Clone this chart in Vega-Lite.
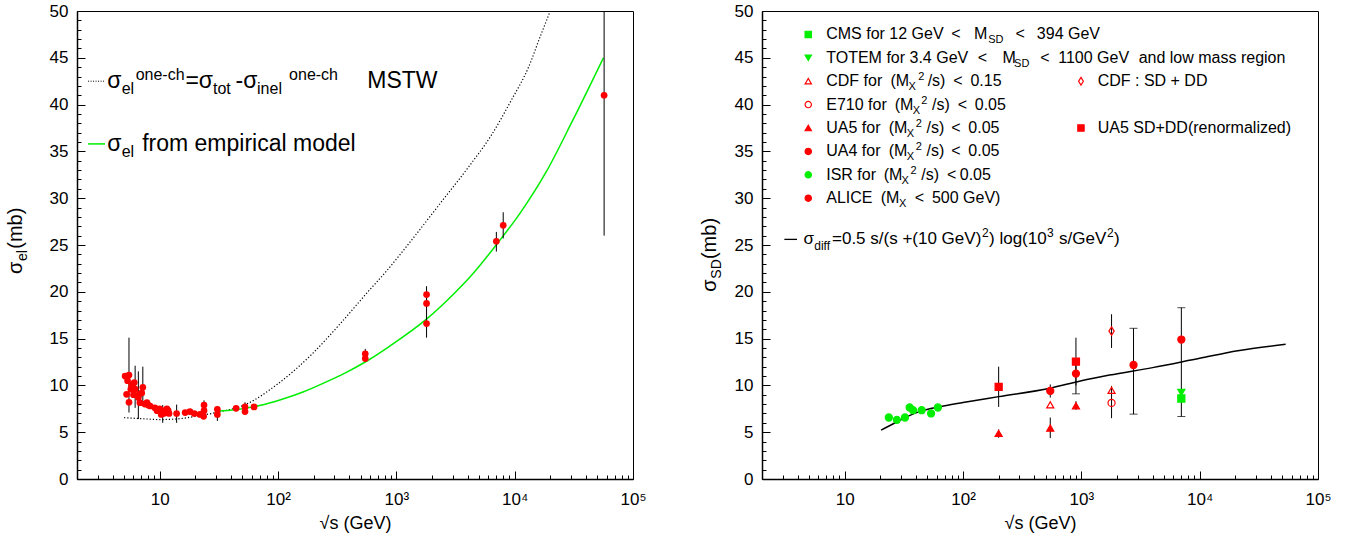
{
  "$schema": "https://vega.github.io/schema/vega-lite/v6.json",
  "background": "white",
  "padding": {"left": 5, "top": 1, "right": 0, "bottom": 0},
  "config": {
    "font": "Liberation Sans",
    "view": {"stroke": "#000", "strokeWidth": 1},
    "axis": {"labelFont": "Liberation Sans", "labelFontSize": 17, "labelColor": "#000", "titleFont": "Liberation Sans", "titleFontSize": 18, "titleColor": "#000", "titleFontWeight": "normal", "domainColor": "#000", "tickColor": "#000", "grid": false, "labelOverlap": false, "labelBound": false, "labelFlush": false}
  },
  "datasets": {
    "el": [
      {"x": 5.1, "y": 11.0}, {"x": 5.5, "y": 11.1, "lo": 7.1, "hi": 15.1}, {"x": 5.25, "y": 9.05}, {"x": 5.35, "y": 10.5},
      {"x": 5.5, "y": 8.2}, {"x": 5.7, "y": 9.6}, {"x": 5.8, "y": 10.1}, {"x": 6.1, "y": 10.3},
      {"x": 6.2, "y": 9.6, "lo": 7.6, "hi": 12.1}, {"x": 6.0, "y": 9.0}, {"x": 6.7, "y": 9.05},
      {"x": 6.6, "y": 8.7, "lo": 6.4, "hi": 11.5}, {"x": 7.2, "y": 9.8, "lo": 7.8, "hi": 12.0}, {"x": 7.05, "y": 9.2},
      {"x": 6.8, "y": 8.15}, {"x": 7.5, "y": 8.0}, {"x": 7.8, "y": 8.15}, {"x": 8.0, "y": 7.9}, {"x": 8.3, "y": 7.8},
      {"x": 9.1, "y": 7.6}, {"x": 9.5, "y": 7.3}, {"x": 9.8, "y": 7.4}, {"x": 10.0, "y": 7.5}, {"x": 10.3, "y": 6.9},
      {"x": 10.6, "y": 7.3, "lo": 6.0, "hi": 7.9}, {"x": 10.8, "y": 7.0}, {"x": 11.3, "y": 7.1}, {"x": 11.5, "y": 7.5},
      {"x": 11.8, "y": 7.3}, {"x": 12.0, "y": 7.0}, {"x": 13.9, "y": 7.0, "lo": 6.0, "hi": 7.95}, {"x": 16.4, "y": 7.1},
      {"x": 18.0, "y": 7.2}, {"x": 19.6, "y": 7.0}, {"x": 21.9, "y": 6.9}, {"x": 23.7, "y": 7.9},
      {"x": 23.7, "y": 7.3, "lo": 6.5, "hi": 8.4}, {"x": 23.5, "y": 6.7}, {"x": 30.7, "y": 7.45, "lo": 6.9, "hi": 7.8},
      {"x": 30.7, "y": 6.9, "lo": 6.2, "hi": 7.5}, {"x": 44.2, "y": 7.55}, {"x": 52.6, "y": 7.7, "lo": 7.2, "hi": 8.2},
      {"x": 52.6, "y": 7.2}, {"x": 62.7, "y": 7.7},
      {"x": 546, "y": 13.37, "lo": 12.9, "hi": 13.9}, {"x": 546, "y": 12.87, "lo": 12.5, "hi": 13.3},
      {"x": 1800, "y": 19.7, "lo": 18.9, "hi": 20.6}, {"x": 1800, "y": 18.76, "lo": 18.0, "hi": 19.5},
      {"x": 1800, "y": 16.6, "lo": 15.1, "hi": 18.1}, {"x": 7000, "y": 25.4, "lo": 24.3, "hi": 26.4},
      {"x": 8000, "y": 27.1, "lo": 25.7, "hi": 28.5}, {"x": 57000, "y": 41.0, "lo": 26.0, "hi": 56.0}
    ],
    "mstw": [
      {"x": 5.0, "y": 6.55}, {"x": 7, "y": 6.45}, {"x": 10, "y": 6.35}, {"x": 15, "y": 6.45}, {"x": 20, "y": 6.7},
      {"x": 30, "y": 7.1}, {"x": 54, "y": 8.0}, {"x": 98, "y": 10.1}, {"x": 192, "y": 13.3}, {"x": 347, "y": 16.8},
      {"x": 575, "y": 20.0}, {"x": 810, "y": 22.1}, {"x": 1460, "y": 26.1}, {"x": 2400, "y": 29.6}, {"x": 4000, "y": 33.2},
      {"x": 6400, "y": 36.8}, {"x": 9300, "y": 40.4}, {"x": 13000, "y": 43.9}, {"x": 16700, "y": 47.5}, {"x": 20000, "y": 50}
    ],
    "elLine": [
      {"x": 30.5, "y": 7.27}, {"x": 43.9, "y": 7.4}, {"x": 69.8, "y": 7.85}, {"x": 106.7, "y": 8.5}, {"x": 162.6, "y": 9.3},
      {"x": 247.7, "y": 10.3}, {"x": 378.4, "y": 11.4}, {"x": 545.8, "y": 12.5}, {"x": 881, "y": 14.2}, {"x": 1807, "y": 17.1},
      {"x": 3126, "y": 19.9}, {"x": 4207, "y": 21.6}, {"x": 6982, "y": 25.0}, {"x": 11117, "y": 28.4}, {"x": 18450, "y": 32.8},
      {"x": 30620, "y": 38.2}, {"x": 56234, "y": 45.0}
    ],
    "legLines": [
      {"k": "mstw", "x": 2.48, "x2": 3.45, "y": 42.5},
      {"k": "emp", "x": 2.48, "x2": 3.45, "y": 35.8},
      {"k": "diff", "x": 3.09, "x2": 3.95, "y": 25.6}
    ],
    "legL": [
      {"r": "m", "t": "σ", "x": 3.61, "y": 42.5}, {"r": "b", "t": "el", "x": 4.77, "y": 42.5}, {"r": "p", "t": "one-ch", "x": 6.26, "y": 42.5},
      {"r": "m", "t": "=σ", "x": 16.49, "y": 42.5}, {"r": "b", "t": "tot", "x": 28.2, "y": 42.5}, {"r": "m", "t": "-σ", "x": 43.8, "y": 42.5},
      {"r": "b", "t": "inel", "x": 66.5, "y": 42.5}, {"r": "p", "t": "one-ch", "x": 124, "y": 42.5}, {"r": "m", "t": "MSTW", "x": 568, "y": 42.5},
      {"r": "m", "t": "σ", "x": 3.61, "y": 35.8}, {"r": "b", "t": "el", "x": 4.77, "y": 35.8}, {"r": "m", "t": "from empirical model", "x": 7.11, "y": 35.8}
    ],
    "ytL": [
      {"r": "m", "t": "σ", "x": 0.686, "y": 21.9}, {"r": "b", "t": "el", "x": 0.686, "y": 23.3}, {"r": "m", "t": "(mb)", "x": 0.686, "y": 24.6}
    ],
    "sd": [
      {"exp": "ISR", "x": 23.6, "y": 6.57}, {"exp": "ISR", "x": 27.6, "y": 6.32}, {"exp": "ISR", "x": 32.3, "y": 6.57},
      {"exp": "ISR", "x": 35.4, "y": 7.64}, {"exp": "ISR", "x": 37.8, "y": 7.35}, {"exp": "ISR", "x": 44.7, "y": 7.35},
      {"exp": "ISR", "x": 53.7, "y": 7.0}, {"exp": "ISR", "x": 61.3, "y": 7.64},
      {"exp": "UA5SDDD", "x": 200, "y": 9.84, "lo": 7.7, "hi": 12.0}, {"exp": "UA5SDDD", "x": 900, "y": 12.54, "lo": 10.0, "hi": 15.1},
      {"exp": "UA5", "x": 200, "y": 4.87, "lo": 4.4, "hi": 5.3}, {"exp": "UA5", "x": 546, "y": 5.44, "lo": 4.37, "hi": 6.57},
      {"exp": "UA5", "x": 900, "y": 7.82, "lo": 7.4, "hi": 8.3},
      {"exp": "UA4", "x": 546, "y": 9.41, "lo": 8.7, "hi": 10.1},
      {"exp": "CDF", "x": 546, "y": 7.92}, {"exp": "CDF", "x": 1800, "y": 9.48},
      {"exp": "E710", "x": 1800, "y": 8.13, "lo": 6.5, "hi": 9.95},
      {"exp": "CDFSDDD", "x": 1800, "y": 15.8, "lo": 14.0, "hi": 17.6},
      {"exp": "ALICE", "x": 900, "y": 11.26, "lo": 9.1, "hi": 12.8}, {"exp": "ALICE", "x": 2760, "y": 12.18, "lo": 6.93, "hi": 16.1},
      {"exp": "ALICE", "x": 7000, "y": 14.9, "lo": 6.68, "hi": 18.3},
      {"exp": "TOTEM", "x": 7000, "y": 9.24}, {"exp": "CMS", "x": 7000, "y": 8.6}
    ],
    "sdLine": [
      {"x": 20.3, "y": 5.22}, {"x": 26.9, "y": 6.04}, {"x": 34.8, "y": 6.75}, {"x": 44.7, "y": 7.28}, {"x": 62.3, "y": 7.7},
      {"x": 100, "y": 8.17}, {"x": 200, "y": 8.8}, {"x": 543, "y": 9.7}, {"x": 1000, "y": 10.5}, {"x": 1730, "y": 11.1},
      {"x": 4000, "y": 11.9}, {"x": 10000, "y": 12.9}, {"x": 21000, "y": 13.7}, {"x": 53300, "y": 14.4}
    ],
    "legRmk": [
      {"exp": "CMS", "x": 4.92, "y": 47.5}, {"exp": "TOTEM", "x": 4.92, "y": 45}, {"exp": "CDF", "x": 4.92, "y": 42.5},
      {"exp": "E710", "x": 4.92, "y": 40}, {"exp": "UA5", "x": 4.92, "y": 37.5}, {"exp": "UA4", "x": 4.92, "y": 35},
      {"exp": "ISR", "x": 4.92, "y": 32.5}, {"exp": "ALICE", "x": 4.92, "y": 30},
      {"exp": "CDFSDDD", "x": 992.5, "y": 42.5}, {"exp": "UA5SDDD", "x": 992.5, "y": 37.5}
    ],
    "legR": [
      {"r": "m", "t": "CMS for 12 GeV", "x": 6.98, "y": 47.5}, {"r": "m", "t": "<", "x": 79.5, "y": 47.5}, {"r": "m", "t": "M", "x": 123.7, "y": 47.5},
      {"r": "b", "t": "SD", "x": 163, "y": 47.5}, {"r": "m", "t": "<", "x": 277.3, "y": 47.5}, {"r": "m", "t": "394 GeV", "x": 420.7, "y": 47.5},
      {"r": "m", "t": "TOTEM for 3.4 GeV", "x": 6.98, "y": 45}, {"r": "m", "t": "<", "x": 133.1, "y": 45}, {"r": "m", "t": "M", "x": 215.8, "y": 45},
      {"r": "b", "t": "SD", "x": 270, "y": 45}, {"r": "m", "t": "<", "x": 449.5, "y": 45}, {"r": "m", "t": "1100 GeV", "x": 638, "y": 45},
      {"r": "m", "t": "and low mass region", "x": 3051, "y": 45},
      {"r": "m", "t": "CDF for", "x": 6.98, "y": 42.5}, {"r": "m", "t": "(M", "x": 24.34, "y": 42.5}, {"r": "b", "t": "X", "x": 34.56, "y": 42.5},
      {"r": "p", "t": "2", "x": 41.82, "y": 42.5}, {"r": "m", "t": "/s)", "x": 50.23, "y": 42.5}, {"r": "m", "t": "<", "x": 82.8, "y": 42.5},
      {"r": "m", "t": "0.15", "x": 115.5, "y": 42.5},
      {"r": "m", "t": "E710 for", "x": 6.98, "y": 40}, {"r": "m", "t": "(M", "x": 26.47, "y": 40}, {"r": "b", "t": "X", "x": 37.58, "y": 40},
      {"r": "p", "t": "2", "x": 44.33, "y": 40}, {"r": "m", "t": "/s)", "x": 54.6, "y": 40}, {"r": "m", "t": "<", "x": 90.04, "y": 40},
      {"r": "m", "t": "0.05", "x": 125.6, "y": 40},
      {"r": "m", "t": "UA5 for", "x": 6.98, "y": 37.5}, {"r": "m", "t": "(M", "x": 23.55, "y": 37.5}, {"r": "b", "t": "X", "x": 33.44, "y": 37.5},
      {"r": "p", "t": "2", "x": 39.84, "y": 37.5}, {"r": "m", "t": "/s)", "x": 49.06, "y": 37.5}, {"r": "m", "t": "<", "x": 79.5, "y": 37.5},
      {"r": "m", "t": "0.05", "x": 110.9, "y": 37.5},
      {"r": "m", "t": "UA4 for", "x": 6.98, "y": 35}, {"r": "m", "t": "(M", "x": 23.55, "y": 35}, {"r": "b", "t": "X", "x": 33.44, "y": 35},
      {"r": "p", "t": "2", "x": 39.84, "y": 35}, {"r": "m", "t": "/s)", "x": 49.06, "y": 35}, {"r": "m", "t": "<", "x": 79.5, "y": 35},
      {"r": "m", "t": "0.05", "x": 110.9, "y": 35},
      {"r": "m", "t": "ISR for", "x": 6.98, "y": 32.5}, {"r": "m", "t": "(M", "x": 21.33, "y": 32.5}, {"r": "b", "t": "X", "x": 30.21, "y": 32.5},
      {"r": "p", "t": "2", "x": 36.0, "y": 32.5}, {"r": "m", "t": "/s)", "x": 44.33, "y": 32.5}, {"r": "m", "t": "<", "x": 73.1, "y": 32.5},
      {"r": "m", "t": "0.05", "x": 93.8, "y": 32.5},
      {"r": "m", "t": "ALICE", "x": 6.98, "y": 30}, {"r": "m", "t": "(M", "x": 20.12, "y": 30}, {"r": "b", "t": "X", "x": 28.79, "y": 30},
      {"r": "m", "t": "<", "x": 39.14, "y": 30}, {"r": "m", "t": "500 GeV)", "x": 54.6, "y": 30},
      {"r": "m", "t": "CDF : SD + DD", "x": 1374, "y": 42.5}, {"r": "m", "t": "UA5 SD+DD(renormalized)", "x": 1374, "y": 37.5},
      {"r": "fm", "t": "σ", "x": 4.49, "y": 25.6}, {"r": "fb", "t": "diff", "x": 5.53, "y": 25.6},
      {"r": "fm", "t": "=0.5 s/(s +(10 GeV)", "x": 7.81, "y": 25.6}, {"r": "fp", "t": "2", "x": 144.8, "y": 25.6},
      {"r": "fm", "t": ") log(10", "x": 165.9, "y": 25.6}, {"r": "fp", "t": "3", "x": 513.1, "y": 25.6},
      {"r": "fm", "t": "s/GeV", "x": 648, "y": 25.6}, {"r": "fp", "t": "2", "x": 1650, "y": 25.6}, {"r": "fm", "t": ")", "x": 1891, "y": 25.6}
    ],
    "ytR": [
      {"r": "m", "t": "σ", "x": 0.817, "y": 20.0}, {"r": "b", "t": "SD", "x": 0.817, "y": 21.4}, {"r": "m", "t": "(mb)", "x": 0.817, "y": 23.5}
    ]
  },
  "spacing": 52,
  "hconcat": [
    {
      "width": 556,
      "height": 468,
      "encoding": {
        "x": {"field": "x", "type": "quantitative", "scale": {"type": "log", "domain": [2, 100000]}, "axis": null},
        "y": {"field": "y", "type": "quantitative", "scale": {"domain": [0, 50], "nice": false, "zero": false}, "axis": null}
      },
      "layer": [
        {
          "data": {"name": "mstw"},
          "mark": {"type": "line", "color": "#000", "strokeDash": [1.2, 2], "strokeWidth": 1.2, "interpolate": "monotone", "clip": true},
          "encoding": {
            "x": {"field": "x", "type": "quantitative", "scale": {"type": "log", "domain": [2, 100000]},
              "axis": {"orient": "bottom", "values": [3,4,5,6,7,8,9,20,30,40,50,60,70,80,90,200,300,400,500,600,700,800,900,2000,3000,4000,5000,6000,7000,8000,9000,20000,30000,40000,50000,60000,70000,80000,90000], "tickSize": -4, "labels": false, "domain": false, "title": null}},
            "y": {"field": "y", "type": "quantitative", "scale": {"domain": [0, 50], "nice": false, "zero": false},
              "axis": {"orient": "left", "values": [1,2,3,4,6,7,8,9,11,12,13,14,16,17,18,19,21,22,23,24,26,27,28,29,31,32,33,34,36,37,38,39,41,42,43,44,46,47,48,49], "tickSize": -4, "labels": false, "domain": false, "title": null}}
          }
        },
        {
          "data": {"name": "elLine"},
          "mark": {"type": "line", "color": "#00ee00", "strokeWidth": 1.5, "interpolate": "monotone"},
          "encoding": {
            "x": {"field": "x", "type": "quantitative", "scale": {"type": "log", "domain": [2, 100000]},
              "axis": {"orient": "bottom", "values": [10, 100, 1000, 10000, 100000], "tickSize": -8, "labelPadding": 20, "domainWidth": 1.5,
                "labelExpr": "datum.value == 10 ? '10' : datum.value == 100 ? '10²' : datum.value == 1000 ? '10³' : datum.value == 10000 ? '10⁴' : '10⁵'",
                "title": "√s (GeV)", "titlePadding": 7}},
            "y": {"field": "y", "type": "quantitative", "scale": {"domain": [0, 50], "nice": false, "zero": false},
              "axis": {"orient": "left", "values": [0, 5, 10, 15, 20, 25, 30, 35, 40, 45, 50], "tickSize": -8, "labelPadding": 17, "domainWidth": 1.5, "title": null}}
          }
        },
        {
          "data": {"name": "el"},
          "transform": [{"filter": "isValid(datum.lo)"}],
          "mark": {"type": "rule", "color": "#000", "strokeWidth": 1, "clip": true},
          "encoding": {
            "y": {"field": "lo", "type": "quantitative", "scale": {"domain": [0, 50], "nice": false, "zero": false}, "axis": null},
            "y2": {"field": "hi"}
          }
        },
        {
          "data": {"name": "el"},
          "mark": {"type": "point", "shape": "circle", "filled": true, "size": 45, "color": "#ff0000", "opacity": 1}
        },
        {
          "data": {"name": "legLines"},
          "transform": [{"filter": "datum.k == 'mstw'"}],
          "mark": {"type": "rule", "color": "#000", "strokeDash": [1, 1.5], "strokeWidth": 1},
          "encoding": {"x2": {"field": "x2"}}
        },
        {
          "data": {"name": "legLines"},
          "transform": [{"filter": "datum.k == 'emp'"}],
          "mark": {"type": "rule", "color": "#00ee00", "strokeWidth": 1.5},
          "encoding": {"x2": {"field": "x2"}}
        },
        {
          "data": {"name": "legL"},
          "transform": [{"filter": "datum.r == 'm'"}],
          "mark": {"type": "text", "align": "left", "baseline": "middle", "font": "Liberation Sans", "fontSize": 23, "color": "#000"},
          "encoding": {"text": {"field": "t"}}
        },
        {
          "data": {"name": "legL"},
          "transform": [{"filter": "datum.r == 'b'"}],
          "mark": {"type": "text", "align": "left", "baseline": "middle", "font": "Liberation Sans", "fontSize": 16, "dy": 8, "color": "#000"},
          "encoding": {"text": {"field": "t"}}
        },
        {
          "data": {"name": "legL"},
          "transform": [{"filter": "datum.r == 'p'"}],
          "mark": {"type": "text", "align": "left", "baseline": "middle", "font": "Liberation Sans", "fontSize": 16, "dy": -6, "color": "#000"},
          "encoding": {"text": {"field": "t"}}
        },
        {
          "data": {"name": "ytL"},
          "transform": [{"filter": "datum.r == 'm'"}],
          "mark": {"type": "text", "align": "left", "baseline": "alphabetic", "angle": 270, "font": "Liberation Sans", "fontSize": 20, "color": "#000"},
          "encoding": {"text": {"field": "t"}}
        },
        {
          "data": {"name": "ytL"},
          "transform": [{"filter": "datum.r == 'b'"}],
          "mark": {"type": "text", "align": "left", "baseline": "alphabetic", "angle": 270, "font": "Liberation Sans", "fontSize": 14, "dy": 5, "color": "#000"},
          "encoding": {"text": {"field": "t"}}
        }
      ],
      "resolve": {"axis": {"x": "independent", "y": "independent"}}
    },
    {
      "width": 556,
      "height": 468,
      "encoding": {
        "x": {"field": "x", "type": "quantitative", "scale": {"type": "log", "domain": [2, 100000]}, "axis": null},
        "y": {"field": "y", "type": "quantitative", "scale": {"domain": [0, 50], "nice": false, "zero": false}, "axis": null}
      },
      "layer": [
        {
          "data": {"name": "sdLine"},
          "mark": {"type": "line", "color": "#000", "strokeWidth": 1.5, "interpolate": "monotone"},
          "encoding": {
            "x": {"field": "x", "type": "quantitative", "scale": {"type": "log", "domain": [2, 100000]},
              "axis": {"orient": "bottom", "values": [3,4,5,6,7,8,9,20,30,40,50,60,70,80,90,200,300,400,500,600,700,800,900,2000,3000,4000,5000,6000,7000,8000,9000,20000,30000,40000,50000,60000,70000,80000,90000], "tickSize": -4, "labels": false, "domain": false, "title": null}},
            "y": {"field": "y", "type": "quantitative", "scale": {"domain": [0, 50], "nice": false, "zero": false},
              "axis": {"orient": "left", "values": [1,2,3,4,6,7,8,9,11,12,13,14,16,17,18,19,21,22,23,24,26,27,28,29,31,32,33,34,36,37,38,39,41,42,43,44,46,47,48,49], "tickSize": -4, "labels": false, "domain": false, "title": null}}
          }
        },
        {
          "data": {"name": "sd"},
          "transform": [{"filter": "isValid(datum.lo)"}],
          "mark": {"type": "rule", "color": "#000", "strokeWidth": 1},
          "encoding": {
            "x": {"field": "x", "type": "quantitative", "scale": {"type": "log", "domain": [2, 100000]},
              "axis": {"orient": "bottom", "values": [10, 100, 1000, 10000, 100000], "tickSize": -8, "labelPadding": 20, "domainWidth": 1.5,
                "labelExpr": "datum.value == 10 ? '10' : datum.value == 100 ? '10²' : datum.value == 1000 ? '10³' : datum.value == 10000 ? '10⁴' : '10⁵'",
                "title": "√s (GeV)", "titlePadding": 7}},
            "y": {"field": "lo", "type": "quantitative", "scale": {"domain": [0, 50], "nice": false, "zero": false},
              "axis": {"orient": "left", "values": [0, 5, 10, 15, 20, 25, 30, 35, 40, 45, 50], "tickSize": -8, "labelPadding": 17, "domainWidth": 1.5, "title": null}},
            "y2": {"field": "hi"}
          }
        },
        {
          "data": {"name": "sd"},
          "transform": [{"filter": "datum.exp == 'ALICE'"}],
          "mark": {"type": "tick", "orient": "horizontal", "size": 8, "thickness": 1, "color": "#000"},
          "encoding": {"y": {"field": "lo", "type": "quantitative", "scale": {"domain": [0, 50], "nice": false, "zero": false}, "axis": null}}
        },
        {
          "data": {"name": "sd"},
          "transform": [{"filter": "datum.exp == 'ALICE'"}],
          "mark": {"type": "tick", "orient": "horizontal", "size": 8, "thickness": 1, "color": "#000"},
          "encoding": {"y": {"field": "hi", "type": "quantitative", "scale": {"domain": [0, 50], "nice": false, "zero": false}, "axis": null}}
        },
        {
          "data": {"name": "sd"},
          "mark": {"type": "point", "filled": true, "size": 50, "strokeWidth": 1.2, "opacity": 1},
          "encoding": {
            "shape": {"field": "exp", "type": "nominal", "legend": null, "scale": {"domain": ["CMS","TOTEM","CDF","CDFSDDD","E710","UA5","UA4","ISR","ALICE","UA5SDDD"], "range": ["square","triangle-down","triangle-up","M0,-1.2L0.75,0L0,1.2L-0.75,0Z","circle","triangle-up","circle","circle","circle","square"]}},
            "fill": {"field": "exp", "type": "nominal", "legend": null, "scale": {"domain": ["CMS","TOTEM","CDF","CDFSDDD","E710","UA5","UA4","ISR","ALICE","UA5SDDD"], "range": ["#00ee00","#00ee00","transparent","transparent","transparent","#ff0000","#ff0000","#00ee00","#ff0000","#ff0000"]}},
            "stroke": {"field": "exp", "type": "nominal", "legend": null, "scale": {"domain": ["CMS","TOTEM","CDF","CDFSDDD","E710","UA5","UA4","ISR","ALICE","UA5SDDD"], "range": ["#00ee00","#00ee00","#ff0000","#ff0000","#ff0000","#ff0000","#ff0000","#00ee00","#ff0000","#ff0000"]}}
          }
        },
        {
          "data": {"name": "legRmk"},
          "mark": {"type": "point", "filled": true, "size": 40, "strokeWidth": 1.2, "opacity": 1},
          "encoding": {
            "shape": {"field": "exp", "type": "nominal", "legend": null},
            "fill": {"field": "exp", "type": "nominal", "legend": null},
            "stroke": {"field": "exp", "type": "nominal", "legend": null}
          }
        },
        {
          "data": {"name": "legLines"},
          "transform": [{"filter": "datum.k == 'diff'"}],
          "mark": {"type": "rule", "color": "#000", "strokeWidth": 1.3},
          "encoding": {"x2": {"field": "x2"}}
        },
        {
          "data": {"name": "legR"},
          "transform": [{"filter": "datum.r == 'm'"}],
          "mark": {"type": "text", "align": "left", "baseline": "middle", "font": "Liberation Sans", "fontSize": 16, "color": "#000"},
          "encoding": {"text": {"field": "t"}}
        },
        {
          "data": {"name": "legR"},
          "transform": [{"filter": "datum.r == 'b'"}],
          "mark": {"type": "text", "align": "left", "baseline": "middle", "font": "Liberation Sans", "fontSize": 11, "dy": 6, "color": "#000"},
          "encoding": {"text": {"field": "t"}}
        },
        {
          "data": {"name": "legR"},
          "transform": [{"filter": "datum.r == 'p'"}],
          "mark": {"type": "text", "align": "left", "baseline": "middle", "font": "Liberation Sans", "fontSize": 11, "dy": -4, "color": "#000"},
          "encoding": {"text": {"field": "t"}}
        },
        {
          "data": {"name": "legR"},
          "transform": [{"filter": "datum.r == 'fm'"}],
          "mark": {"type": "text", "align": "left", "baseline": "middle", "font": "Liberation Sans", "fontSize": 17, "color": "#000"},
          "encoding": {"text": {"field": "t"}}
        },
        {
          "data": {"name": "legR"},
          "transform": [{"filter": "datum.r == 'fb'"}],
          "mark": {"type": "text", "align": "left", "baseline": "middle", "font": "Liberation Sans", "fontSize": 12, "dy": 7, "color": "#000"},
          "encoding": {"text": {"field": "t"}}
        },
        {
          "data": {"name": "legR"},
          "transform": [{"filter": "datum.r == 'fp'"}],
          "mark": {"type": "text", "align": "left", "baseline": "middle", "font": "Liberation Sans", "fontSize": 12, "dy": -6, "color": "#000"},
          "encoding": {"text": {"field": "t"}}
        },
        {
          "data": {"name": "ytR"},
          "transform": [{"filter": "datum.r == 'm'"}],
          "mark": {"type": "text", "align": "left", "baseline": "alphabetic", "angle": 270, "font": "Liberation Sans", "fontSize": 20, "color": "#000"},
          "encoding": {"text": {"field": "t"}}
        },
        {
          "data": {"name": "ytR"},
          "transform": [{"filter": "datum.r == 'b'"}],
          "mark": {"type": "text", "align": "left", "baseline": "alphabetic", "angle": 270, "font": "Liberation Sans", "fontSize": 14, "dy": 5, "color": "#000"},
          "encoding": {"text": {"field": "t"}}
        }
      ],
      "resolve": {"axis": {"x": "independent", "y": "independent"}}
    }
  ]
}
